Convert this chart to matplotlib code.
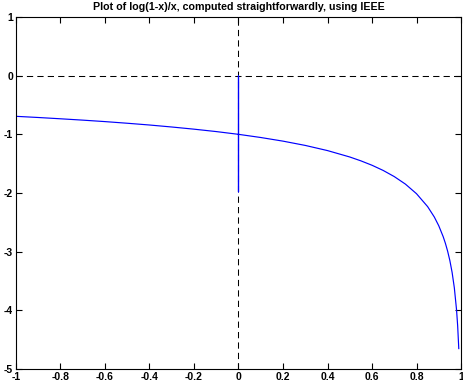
import matplotlib
matplotlib.use("Agg")
import matplotlib.pyplot as plt

plt.rcParams['font.family'] = ['Liberation Sans', 'DejaVu Sans']

title = "Plot of log(1-x)/x, computed straightforwardly, using IEEE"

x_vals = [-1.0, -0.9, -0.8, -0.7, -0.6, -0.5, -0.4, -0.3, -0.2, -0.1,
          0.0, 0.0, 0.0, 0.0,
          0.1, 0.2, 0.3, 0.4, 0.5, 0.55, 0.6, 0.65, 0.7, 0.75, 0.8, 0.85,
          0.88, 0.9, 0.92, 0.93, 0.94, 0.95, 0.96, 0.97, 0.98, 0.985, 0.99]
y_vals = [-0.693, -0.713, -0.735, -0.758, -0.783, -0.811, -0.841, -0.875, -0.912, -0.953,
          -1.0, 0.0, -1.98, -1.0,
          -1.054, -1.116, -1.189, -1.277, -1.386, -1.452, -1.527, -1.615, -1.720, -1.848, -2.012, -2.232,
          -2.409, -2.558, -2.745, -2.859, -2.993, -3.153, -3.353, -3.615, -3.992, -4.264, -4.652]

x_ticks = [-1, -0.8, -0.6, -0.4, -0.2, 0, 0.2, 0.4, 0.6, 0.8, 1]
x_tick_labels = ["-1", "-0.8", "-0.6", "-0.4", "-0.2", "0", "0.2", "0.4", "0.6", "0.8", "1"]
y_ticks = [1, 0, -1, -2, -3, -4, -5]
y_tick_labels = ["1", "0", "-1", "-2", "-3", "-4", "-5"]

fig = plt.figure(figsize=(4.64, 3.83), dpi=100)
ax = fig.add_axes([16/464, 14/383, 445/464, 352/383])

ax.axhline(0, color="black", linestyle=(0, (6, 4)), linewidth=0.75)
ax.axvline(0, color="black", linestyle=(0, (6, 4)), linewidth=0.75)
ax.plot(x_vals, y_vals, color="#0000ff", linewidth=0.85)

ax.set_xlim(-1, 1)
ax.set_ylim(-5, 1)
ax.set_xticks(x_ticks)
ax.set_xticklabels(x_tick_labels)
ax.set_yticks(y_ticks)
ax.set_yticklabels(y_tick_labels)
ax.tick_params(direction="in", length=4, width=0.8, top=True, right=True,
               labelsize=7.5, pad=2)
for lab in ax.get_xticklabels() + ax.get_yticklabels():
    lab.set_fontweight("bold")
for s in ax.spines.values():
    s.set_linewidth(0.8)

ax.set_title(title, fontsize=7.7, fontweight="bold", pad=5)

fig.savefig("out.png", dpi=100)
